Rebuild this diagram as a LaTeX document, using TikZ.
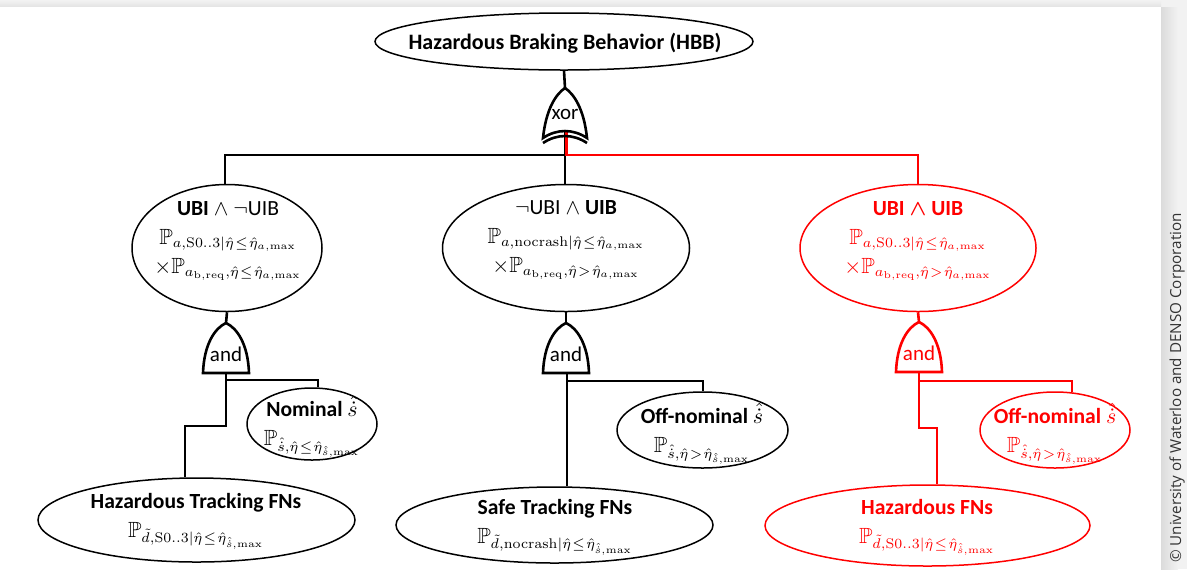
\documentclass[tikz,border=0pt]{standalone}
\usepackage{amsmath,amssymb}
\usepackage[no-math]{fontspec}
\setmainfont{Carlito}
\newfontfamily\notefont{Open Sans}
\usetikzlibrary{shapes.geometric}
\definecolor{hred}{RGB}{255,0,0}
\definecolor{pagegray}{RGB}{242,242,242}
% formulas are set a little larger, with large sub- and superscripts
\DeclareMathSizes{10.5}{11}{7.5}{5.5}
\newcommand{\sdh}{\hat{\dot{s}}}
\newcommand{\eh}{\hat{\eta}}
\newcommand{\sle}{\mkern1.5mu\le\mkern1.5mu}
\newcommand{\sgt}{\mkern1.5mu>\mkern1.5mu}
\newcommand{\fm}[1]{{\fontsize{10.5}{14.5}\selectfont$#1$}}

\tikzset{
  evt/.style={ellipse, draw, line width=0.75pt, inner sep=0pt},
  lbl/.style={align=center, inner sep=0pt, font=\fontsize{10.8}{14.5}\selectfont},
  wire/.style={line width=1.3pt},
  gate/.style={line width=1.3pt, fill=white},
  gatelabel/.style={font=\fontsize{10.5}{12}\selectfont, inner sep=0pt},
  hot/.style={draw=hred, text=hred},
  andgate/.pic={
    \draw[gate] (-23,25) .. controls (-22,-4) and (-11,-20) .. (0,-25)
      .. controls (11,-20) and (22,-4) .. (23,25) -- cycle;
  },
  xorgate/.pic={
    \draw[gate] (-22,25) .. controls (-19,-4) and (-9,-19) .. (0,-25)
      .. controls (9,-19) and (19,-4) .. (22,25)
      .. controls (8,15.7) and (-8,15.7) .. (-22,25) -- cycle;
    \draw[gate, fill=none] (-22,30) .. controls (-8,20.7) and (8,20.7) .. (22,30);
  },
}

\begin{document}
\begin{tikzpicture}[x=0.5pt,y=-0.5pt]
\useasboundingbox (0,0) rectangle (1187,569);

% page background with the sheet and its shadow
\fill[pagegray] (0,0) rectangle (1187,569);
\shade[left color=gray!28, right color=pagegray] (1161,7) rectangle (1178,569);
\shade[top color=pagegray, bottom color=gray!22] (0,0) rectangle (1161,7);
\fill[white] (0,7) rectangle (1161,569);

% ---------- event outlines ----------
\node[evt, minimum width=189pt, minimum height=28.5pt] (hbb)  at (564,41.5) {};
\node[evt, minimum width=95pt,  minimum height=63.5pt] (ubi)  at (227,248) {};
\node[evt, minimum width=123.5pt, minimum height=63.5pt] (nubi) at (566,248) {};
\node[evt, hot, minimum width=118pt, minimum height=63.5pt] (both) at (918,248) {};
\node[evt, minimum width=65pt, minimum height=36pt] (nom)  at (312,424) {};
\node[evt, minimum width=85.5pt, minimum height=38pt] (offm) at (702.5,430) {};
\node[evt, hot, minimum width=75pt, minimum height=38pt] (offr) at (1055,430) {};
\node[evt, minimum width=158.5pt, minimum height=42pt] (htf)  at (196.5,520) {};
\node[evt, minimum width=158.5pt, minimum height=38pt] (stf)  at (554.5,525) {};
\node[evt, hot, minimum width=162.5pt, minimum height=40.5pt] (hfn) at (927.5,525.5) {};

% ---------- event texts ----------
\node[lbl, font=\bfseries\fontsize{11}{13}\selectfont] (hbbT) at (565,43)
  {Hazardous Braking Behavior (HBB)};

\node[lbl] (ubiT) at (228,241)
  {\textbf{UBI} $\wedge$ $\neg$UIB\\
   \fm{\mathbb{P}_{a,\mathrm{S0..3}|\eh\sle\eh_{a,\max}}}\\
   \fm{\times\mathbb{P}_{a_{\mathrm{b,req}},\eh\sle\eh_{a,\max}}}};

\node[lbl] (nubiT) at (566,240)
  {$\neg$UBI $\wedge$ \textbf{UIB}\\
   \fm{\mathbb{P}_{a,\mathrm{nocrash}|\eh\sle\eh_{a,\max}}}\\
   \fm{\times\mathbb{P}_{a_{\mathrm{b,req}},\eh\sgt\eh_{a,\max}}}};

\node[lbl, text=hred] (bothT) at (918,241)
  {\textbf{UBI $\boldsymbol{\wedge}$ UIB}\\
   \fm{\mathbb{P}_{a,\mathrm{S0..3}|\eh\sle\eh_{a,\max}}}\\
   \fm{\times\mathbb{P}_{a_{\mathrm{b,req}},\eh\sgt\eh_{a,\max}}}};

\node[lbl] (nomT) at (312,427)
  {\textbf{Nominal} \fm{\sdh}\\
   \fm{\mathbb{P}_{\sdh,\eh\sle\eh_{\sdh,\max}}}};

\node[lbl] (offmT) at (702,434)
  {\textbf{Off-nominal} \fm{\sdh}\\
   \fm{\mathbb{P}_{\sdh,\eh\sgt\eh_{\sdh,\max}}}};

\node[lbl, text=hred] (offrT) at (1055,434)
  {\textbf{Off-nominal} \fm{\sdh}\\
   \fm{\mathbb{P}_{\sdh,\eh\sgt\eh_{\sdh,\max}}}};

\node[lbl] (htfT) at (196,521)
  {\textbf{Hazardous Tracking FNs}\\
   \fm{\mathbb{P}_{\tilde{d},\mathrm{S0..3}|\eh\sle\eh_{\sdh,\max}}}};

\node[lbl] (stfT) at (555,527)
  {\textbf{Safe Tracking FNs}\\
   \fm{\mathbb{P}_{\tilde{d},\mathrm{nocrash}|\eh\sle\eh_{\sdh,\max}}}};

\node[lbl, text=hred] (hfnT) at (927,527)
  {\textbf{Hazardous FNs}\\
   \fm{\mathbb{P}_{\tilde{d},\mathrm{S0..3}|\eh\sle\eh_{\sdh,\max}}}};

% ---------- gate terminals and wire bends ----------
\coordinate (xorT) at (565,88);
\coordinate (xorB) at (565,131);
\coordinate (bus)  at (565,155);
\coordinate (busL) at (225,155);
\coordinate (busR) at (918,155);

\coordinate (g1T) at (226,323);  \coordinate (g1B) at (226,373);
\coordinate (g1a) at (226,380);  \coordinate (g1b) at (318,380);
\coordinate (g1c) at (226,426);  \coordinate (g1d) at (185,426);

\coordinate (g2T) at (566,323);  \coordinate (g2B) at (567,373);
\coordinate (g2a) at (567,381);  \coordinate (g2b) at (703,381);

\coordinate (g3T) at (919,322);  \coordinate (g3B) at (919,372);
\coordinate (g3a) at (919,381);  \coordinate (g3b) at (1072,381);
\coordinate (g3c) at (919,428);  \coordinate (g3d) at (937,428);

% ---------- wires ----------
\draw[wire] (hbb.south) -- (xorT);
\draw[wire] (xorB) -- (bus) -- (bus |- nubi.north);
\draw[wire] (bus) -- (busL) -- (busL |- ubi.north);
\draw[wire, hred] ([xshift=0.6pt]xorB) -- ([xshift=0.6pt]bus) -- (busR) -- (busR |- both.north);

\draw[wire] (ubi.south) -- (g1T);
\draw[wire] (g1B) -- (g1c) -- (g1d) -- (g1d |- htf.north);
\draw[wire] (g1a) -- (g1b) -- (g1b |- nom.north);

\draw[wire] (nubi.south) -- (g2T);
\draw[wire] (g2B) -- (g2B |- stf.north);
\draw[wire] (g2a) -- (g2b) -- (g2b |- offm.north);

\draw[wire, hred] (both.south) -- (g3T);
\draw[wire, hred] (g3B) -- (g3c) -- (g3d) -- (g3d |- hfn.north);
\draw[wire, hred] (g3a) -- (g3b) -- ([yshift=-0.5pt]g3b |- offr.north);

% ---------- gates ----------
\pic at (565,113) {xorgate};
\node[gatelabel] (xorlbl) at (565,114) {xor};

\pic at (226,348) {andgate};
\node[gatelabel] (and1) at (226,354) {and};

\pic at (566,348) {andgate};
\node[gatelabel] (and2) at (566,354) {and};

\pic[color=hred] at (919,347) {andgate};
\node[gatelabel, text=hred] (and3) at (919,353) {and};

% ---------- copyright ----------
\node[rotate=90, font=\notefont\fontsize{7.6}{8}\selectfont, text=black!80, inner sep=0pt]
  (copy) at (1177,388) {© University of Waterloo and DENSO Corporation};
\end{tikzpicture}
\end{document}
